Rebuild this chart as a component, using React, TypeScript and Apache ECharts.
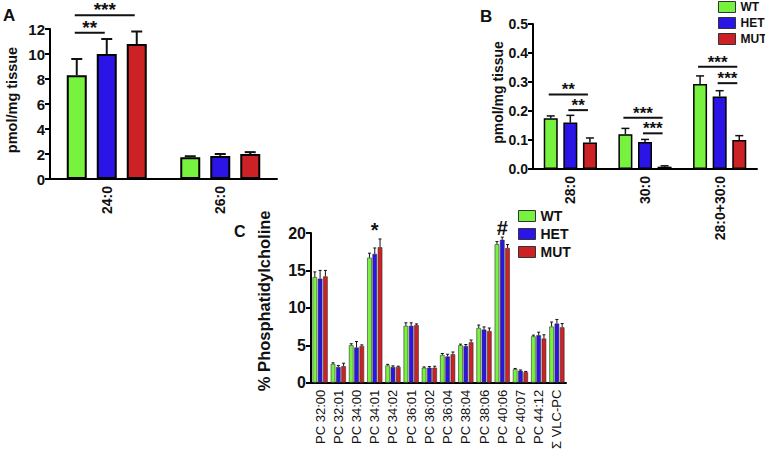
import React, { useEffect, useRef } from 'react';
import * as echarts from 'echarts';

const FONT = "'Liberation Sans', Arial, sans-serif";
const groups = ['WT', 'HET', 'MUT'];
const colors = ['#77F23F', '#2B14E6', '#CC2226'];

// Panel A
const catsA = ['24:0', '26:0'];
const wtA = [8.3, 1.75];
const wtAErr = [1.3, 0.07];
const hetA = [10.0, 1.85];
const hetAErr = [1.2, 0.15];
const mutA = [10.8, 2.0];
const mutAErr = [1.0, 0.15];
const sigA = [
  { cat: 0, from: 0, to: 2, y: 13.1, label: '***' },
  { cat: 0, from: 0, to: 1, y: 11.7, label: '**' },
];

// Panel B
const catsB = ['28:0', '30:0', '28:0+30:0'];
const wtB = [0.175, 0.12, 0.293];
const wtBErr = [0.008, 0.02, 0.028];
const hetB = [0.16, 0.093, 0.25];
const hetBErr = [0.025, 0.009, 0.02];
const mutB = [0.091, 0.008, 0.1];
const mutBErr = [0.016, 0.003, 0.015];
const sigB = [
  { cat: 0, from: 0, to: 2, y: 0.257, label: '**' },
  { cat: 0, from: 1, to: 2, y: 0.203, label: '**' },
  { cat: 1, from: 0, to: 2, y: 0.177, label: '***' },
  { cat: 1, from: 1, to: 2, y: 0.123, label: '***' },
  { cat: 2, from: 0, to: 2, y: 0.353, label: '***' },
  { cat: 2, from: 1, to: 2, y: 0.296, label: '***' },
];

// Panel C
const catsC = ['PC 32:00', 'PC 32:01', 'PC 34:00', 'PC 34:01', 'PC 34:02', 'PC 36:01', 'PC 36:02', 'PC 36:04', 'PC 38:04', 'PC 38:06', 'PC 40:06', 'PC 40:07', 'PC 44:12', 'Σ VLC-PC'];
const wtC = [14.1, 2.5, 5.0, 16.7, 2.3, 7.6, 2.0, 3.7, 5.0, 7.3, 18.5, 1.8, 6.2, 7.5];
const wtCErr = [0.7, 0.15, 0.2, 0.6, 0.15, 0.4, 0.1, 0.2, 0.15, 0.4, 0.35, 0.1, 0.15, 0.6];
const hetC = [13.9, 2.1, 4.7, 17.2, 2.1, 7.6, 2.0, 3.5, 4.9, 7.1, 19.1, 1.6, 6.35, 7.9];
const hetCErr = [1.1, 0.2, 0.8, 0.8, 0.15, 0.4, 0.15, 0.3, 0.2, 0.35, 0.35, 0.1, 0.4, 0.55];
const mutC = [14.2, 2.2, 4.9, 18.1, 2.1, 7.7, 2.0, 3.8, 5.4, 6.9, 18.0, 1.4, 5.9, 7.4];
const mutCErr = [0.8, 0.4, 0.15, 1.1, 0.1, 0.15, 0.2, 0.3, 0.3, 0.4, 0.45, 0.1, 0.5, 0.5];
const markC = [
  { cat: 3, y: 19.0, label: '*' },
  { cat: 10, y: 19.3, label: '#' },
];

function barSeries(ax: number, k: number, data: number[], w: number, gap: number, bw: number, bc: string) {
  return {
    type: 'bar',
    name: groups[k],
    xAxisIndex: ax,
    yAxisIndex: ax,
    data,
    barWidth: w,
    barGap: gap * 100 + '%',
    itemStyle: { color: colors[k], borderColor: bc, borderWidth: bw },
    z: 2,
  };
}

function errSeries(ax: number, k: number, vals: number[], errs: number[], w: number, gap: number, capW: number, lw: number) {
  return {
    type: 'custom',
    name: 'err',
    xAxisIndex: ax,
    yAxisIndex: ax,
    z: 4,
    silent: true,
    data: vals.map((v, i) => [i, v, errs[i]]),
    renderItem: (params: any, api: any) => {
      const c = api.value(0);
      const v = api.value(1);
      const e = api.value(2);
      const base = api.coord([c, v]);
      const top = api.coord([c, v + e]);
      const x = base[0] + (k - 1) * w * (1 + gap);
      const st = { stroke: '#111', lineWidth: lw };
      return {
        type: 'group',
        children: [
          { type: 'line', shape: { x1: x, y1: base[1], x2: x, y2: top[1] }, style: st },
          { type: 'line', shape: { x1: x - capW / 2, y1: top[1], x2: x + capW / 2, y2: top[1] }, style: st },
        ],
      };
    },
  };
}

function sigSeries(ax: number, sigs: any[], w: number, gap: number, fs: number) {
  return {
    type: 'custom',
    name: 'sig',
    xAxisIndex: ax,
    yAxisIndex: ax,
    z: 5,
    silent: true,
    clip: false,
    data: sigs.map((s) => [s.cat, s.from, s.to, s.y]),
    renderItem: (params: any, api: any) => {
      const s = sigs[params.dataIndex];
      const p = api.coord([api.value(0), api.value(3)]);
      const step = w * (1 + gap);
      const x1 = p[0] + (api.value(1) - 1) * step - 2;
      const x2 = p[0] + (api.value(2) - 1) * step - 2;
      return {
        type: 'group',
        children: [
          { type: 'line', shape: { x1, y1: p[1], x2, y2: p[1] }, style: { stroke: '#111', lineWidth: 2 } },
          {
            type: 'text',
            x: (x1 + x2) / 2,
            y: p[1] + 4,
            style: { text: s.label, fill: '#111', font: `bold ${fs}px ${FONT}`, align: 'center', verticalAlign: 'bottom' },
          },
        ],
      };
    },
  };
}

function markSeries(ax: number, marks: any[], fs: number) {
  return {
    type: 'custom',
    name: 'mark',
    xAxisIndex: ax,
    yAxisIndex: ax,
    z: 5,
    silent: true,
    clip: false,
    data: marks.map((m) => [m.cat, m.y]),
    renderItem: (params: any, api: any) => {
      const m = marks[params.dataIndex];
      const p = api.coord([api.value(0), api.value(1)]);
      return {
        type: 'text',
        x: p[0],
        y: p[1],
        style: { text: m.label, fill: '#111', font: `bold ${fs}px ${FONT}`, align: 'center', verticalAlign: 'bottom' },
      };
    },
  };
}

function xAxis(grid: number, data: string[], bold: boolean, fs: number) {
  return {
    type: 'category',
    gridIndex: grid,
    data,
    axisLine: { lineStyle: { color: '#000', width: 2 } },
    axisTick: { alignWithLabel: true, length: 5, lineStyle: { color: '#000', width: 2 } },
    axisLabel: { rotate: 90, fontWeight: bold ? 'bold' : 'normal', fontSize: fs, color: '#111', fontFamily: FONT, margin: 7, interval: 0 },
  };
}

function yAxis(grid: number, max: number, interval: number, name: string, nameGap: number, dec: number, tickFs: number, nameFs: number, shift: number) {
  return {
    type: 'value',
    gridIndex: grid,
    min: 0,
    max,
    interval,
    axisLine: { show: true, lineStyle: { color: '#000', width: 2 } },
    axisTick: { show: true, length: 5, lineStyle: { color: '#000', width: 2 } },
    splitLine: { show: false },
    axisLabel: {
      fontWeight: 'bold',
      fontSize: tickFs,
      color: '#111',
      fontFamily: FONT,
      margin: 5,
      formatter: (v: number) => v.toFixed(dec),
    },
    name,
    nameLocation: 'middle',
    nameGap,
    nameTextStyle: { fontWeight: 'bold', fontSize: nameFs, color: '#111', fontFamily: FONT, padding: [0, 0, 0, shift] },
  };
}

function legend(left: number, top: number, fs: number) {
  return {
    data: groups,
    orient: 'vertical',
    icon: 'rect',
    left,
    top,
    padding: 0,
    itemWidth: 17,
    itemHeight: 11,
    itemGap: 4,
    itemStyle: { borderColor: '#333', borderWidth: 1 },
    textStyle: { fontWeight: 'bold', fontSize: fs, color: '#111', fontFamily: FONT },
    selectedMode: false,
  };
}

export default function App() {
  const ref = useRef<HTMLDivElement>(null);
  useEffect(() => {
    if (!ref.current) return;
    const chart = echarts.init(ref.current, null, { renderer: 'svg' });
    const wA = 20, gA = 0.5;
    const wB = 14, gB = 0.4;
    const wC = 4.6, gC = 0.15;
    const option: any = {
      animation: false,
      backgroundColor: '#fff',
      textStyle: { fontFamily: FONT },
      grid: [
        { left: 50, top: 29, width: 227, height: 150 },
        { left: 533, top: 24, width: 224, height: 145 },
        { left: 311, top: 233, width: 255, height: 152.5 },
      ],
      legend: [legend(718, 1, 12), legend(518, 209, 14)],
      xAxis: [xAxis(0, catsA, true, 14), xAxis(1, catsB, true, 14), xAxis(2, catsC, false, 13)],
      yAxis: [
        yAxis(0, 12, 2, 'pmol/mg tissue', 31, 0, 15, 14.5, 8),
        yAxis(1, 0.5, 0.1, 'pmol/mg tissue', 28, 1, 14, 14, 8),
        yAxis(2, 20, 5, '% Phosphatidylcholine', 39, 0, 16, 16.5, 14),
      ],
      graphic: [
        { type: 'text', left: 3, top: 7, style: { text: 'A', font: `bold 17px ${FONT}`, fill: '#111' } },
        { type: 'text', left: 480, top: 8, style: { text: 'B', font: `bold 17px ${FONT}`, fill: '#111' } },
        { type: 'text', left: 234, top: 223, style: { text: 'C', font: `bold 16px ${FONT}`, fill: '#111' } },
      ],
      series: [
        barSeries(0, 0, wtA, wA, gA, 2, '#000'),
        barSeries(0, 1, hetA, wA, gA, 2, '#000'),
        barSeries(0, 2, mutA, wA, gA, 2, '#000'),
        errSeries(0, 0, wtA, wtAErr, wA, gA, 11, 2),
        errSeries(0, 1, hetA, hetAErr, wA, gA, 11, 2),
        errSeries(0, 2, mutA, mutAErr, wA, gA, 11, 2),
        sigSeries(0, sigA, wA, gA, 19),
        barSeries(1, 0, wtB, wB, gB, 1.5, '#000'),
        barSeries(1, 1, hetB, wB, gB, 1.5, '#000'),
        barSeries(1, 2, mutB, wB, gB, 1.5, '#000'),
        errSeries(1, 0, wtB, wtBErr, wB, gB, 8, 1.5),
        errSeries(1, 1, hetB, hetBErr, wB, gB, 8, 1.5),
        errSeries(1, 2, mutB, mutBErr, wB, gB, 8, 1.5),
        sigSeries(1, sigB, wB, gB, 17),
        barSeries(2, 0, wtC, wC, gC, 0.6, '#333'),
        barSeries(2, 1, hetC, wC, gC, 0.6, '#333'),
        barSeries(2, 2, mutC, wC, gC, 0.6, '#333'),
        errSeries(2, 0, wtC, wtCErr, wC, gC, 3, 1),
        errSeries(2, 1, hetC, hetCErr, wC, gC, 3, 1),
        errSeries(2, 2, mutC, mutCErr, wC, gC, 3, 1),
        markSeries(2, markC, 20),
      ],
    };
    chart.setOption(option);
    return () => chart.dispose();
  }, []);
  return <div ref={ref} style={{ position: 'fixed', left: 0, top: 0, width: 765, height: 452 }} />;
}
